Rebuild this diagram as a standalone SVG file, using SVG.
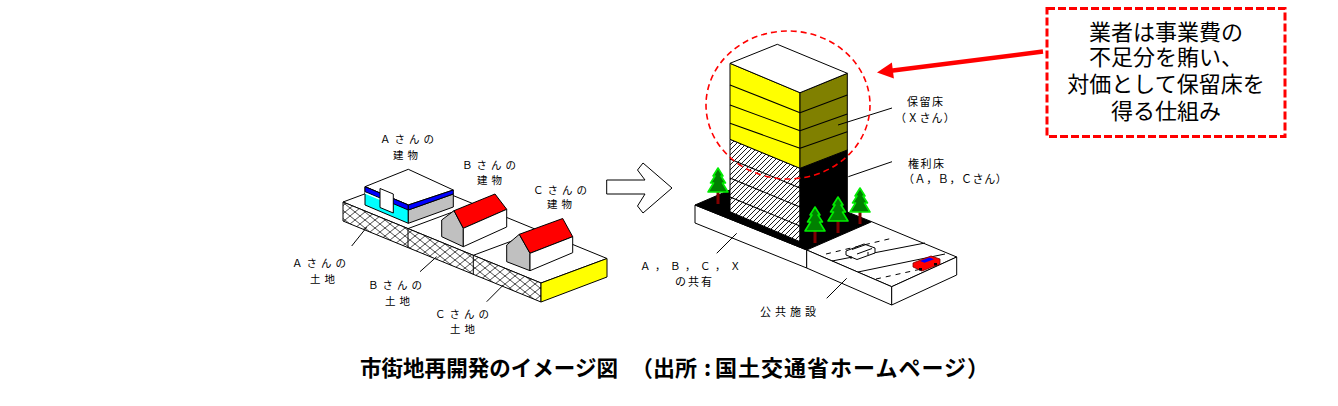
<svg xmlns="http://www.w3.org/2000/svg" width="1338" height="406" viewBox="0 0 1338 406">
<style>
.w{fill:#fff;stroke:#000;stroke-width:1;stroke-linejoin:round}
.k{stroke:#000;stroke-width:1;stroke-linejoin:round}
.ln{stroke:#000;stroke-width:1;fill:none}
.fl{stroke:#000;stroke-width:1.1;fill:none}
.lbl{font-family:"Noto Sans CJK JP","Noto Sans",sans-serif;font-size:10.5px;fill:#000}
.rl{font-family:"Noto Sans CJK JP","Noto Sans",sans-serif;font-size:11px;fill:#000}
.call{font-family:"Noto Sans CJK JP","Noto Sans",sans-serif;font-size:22px;fill:#000;text-anchor:middle}
.cap{font-family:"Noto Sans CJK JP","Noto Sans",sans-serif;font-size:22px;font-weight:bold;fill:#000}
</style>
<defs>
<pattern id="xhatch" patternUnits="userSpaceOnUse" width="10" height="8"><path d="M0,0 L10,8 M0,8 L10,0" stroke="#000" stroke-width="0.7"/></pattern>
<pattern id="dhatch" patternUnits="userSpaceOnUse" width="5" height="5"><path d="M-1,1 L1,-1 M0,5 L5,0 M4,6 L6,4" stroke="#000" stroke-width="0.9"/></pattern>
<g id="tree"><rect x="-1.5" y="23" width="3" height="13" fill="#800000"/><path d="M0,0 L5,8 L3,8 L7.5,15 L4.5,15 L10,24 L-10,24 L-4.5,15 L-7.5,15 L-3,8 L-5,8 Z" fill="#008000" stroke="#00ee00" stroke-width="1.6" stroke-linejoin="round"/></g>
</defs>
<rect width="1338" height="406" fill="#fff"/>

<!-- LEFT: existing lots -->
<g id="lots">
<polygon class="w" points="343,202 409,177.5 607,258.5 541,283"/>
<polygon points="343,202 541,283 541,302 343,221" fill="#fff"/>
<polygon points="343,202 541,283 541,302 343,221" fill="url(#xhatch)" class="k"/>
<polygon class="k" points="541,283 607,258.5 607,277 541,302" fill="#ffff00"/>
<path class="ln" d="M408,228.6 V247.6 M473.3,255.3 V274.3 M408,228.6 L474,204.1 M473.3,255.3 L539.3,230.8"/>
</g>
<g id="bldgA">
<polygon class="w" points="365,186.7 408.3,169.3 453.3,190 408.3,205"/>
<polygon class="k" points="365,186.7 408.3,205 408.3,223.3 365,205" fill="#00ffff"/>
<polygon class="k" points="365,186.7 408.3,205 408.3,210 365,191.7" fill="#0000ff"/>
<polygon points="365,192.2 380,198.5 380,200 365,193.7" fill="#fff"/>
<polygon class="k" points="408.3,210 453.3,194 453.3,207 408.3,223.3" fill="#c0c0c0"/>
<polygon class="k" points="408.3,205 453.3,190 453.3,194 408.3,210" fill="#0000ff"/>
<polygon class="w" points="380,188.5 393.3,194 393.3,213 380,207.5"/>
</g>
<g id="houseB">
<polygon class="k" points="441.7,220 454,210.7 463.3,228.3 463.3,246.7 441.7,236.7" fill="#c0c0c0"/>
<polygon class="k" points="454,210.7 495,194 506.7,209.3 463.3,228.3" fill="#ff0000"/>
<polygon class="w" points="463.3,228.3 506.7,209.3 506.7,227 463.3,246.7"/>
</g>
<g id="houseC">
<polygon class="k" points="506.7,245 519.3,234.3 530,253.3 530,270.7 506.7,261.7" fill="#c0c0c0"/>
<polygon class="k" points="519.3,234.3 562.7,218.5 572.7,236.7 530,253.3" fill="#ff0000"/>
<polygon class="w" points="530,253.3 572.7,236.7 572.7,252.7 530,270.7"/>
</g>
<g id="labelsLeft">
<text class="lbl" x="380" y="143" letter-spacing="4">Ａさんの</text>
<text class="lbl" x="393" y="158.5" letter-spacing="4">建物</text>
<text class="lbl" x="462" y="168.5" letter-spacing="4">Ｂさんの</text>
<text class="lbl" x="477" y="184" letter-spacing="4">建物</text>
<text class="lbl" x="533" y="193.5" letter-spacing="4">Ｃさんの</text>
<text class="lbl" x="547" y="208" letter-spacing="4">建物</text>
<text class="lbl" x="292" y="267" letter-spacing="4">Ａさんの</text>
<text class="lbl" x="310" y="283" letter-spacing="4">土地</text>
<text class="lbl" x="368" y="288.5" letter-spacing="4">Ｂさんの</text>
<text class="lbl" x="385" y="305" letter-spacing="4">土地</text>
<text class="lbl" x="435" y="318" letter-spacing="4">Ｃさんの</text>
<text class="lbl" x="450" y="333" letter-spacing="4">土地</text>
</g>

<!-- hollow arrow -->
<g id="bigArrow">
<polygon class="w" points="606.7,180 645,180 637.5,170 643,163 672,188 643,213 637.5,206 645,194 606.7,194"/>
</g>

<!-- RIGHT: redevelopment -->
<g id="base">
<polygon class="w" points="695,205 806.7,250 806.7,268 695,223"/>
<polygon points="695,205 760,177 871.7,221.7 806.7,250" fill="#000" class="k"/>
</g>
<g id="road">
<polygon class="w" points="806.7,250 871.7,221.7 956.7,257 891.7,286.7"/>
<polygon class="w" points="806.7,250 891.7,286.7 891.7,305 806.7,268"/>
<polygon class="w" points="891.7,286.7 956.7,257 956.7,275 891.7,305"/>
<path class="ln" d="M826,254 L893,238" stroke-dasharray="5,5"/>
<path class="ln" d="M832,261 L925,243"/>
<path class="ln" d="M858,272 L945,254"/>
<path class="ln" d="M876,279 L935,266" stroke-dasharray="5,5"/>
<g id="carWhite">
<polygon points="846,251 864,244 875,248 875,253 857,259.5 846,255" fill="#fff" stroke="#000" stroke-width="1"/>
<path d="M852,249.5 L866,244.5 M857,254 L872,248.5 M851,256 v3 M868,252 v3" stroke="#000" stroke-width="1" fill="none"/>
</g>
<g id="carRed">
<polygon points="913,263 931,256 940,259 940,264 922,271 913,267" fill="#ff0000" stroke="#800000" stroke-width="0.8"/>
<polygon points="920,261 929.5,257.5 934,259.2 924.5,262.8" fill="#0000ff"/>
<rect x="919" y="268" width="3" height="2.5" fill="#000"/>
<rect x="934" y="263" width="3" height="2.5" fill="#000"/>
</g>
</g>
<g id="tower">
<polygon points="730,139.3 800,168.3 800,241.7 730,211.7" fill="#fff"/>
<polygon points="730,139.3 800,168.3 800,241.7 730,211.7" fill="url(#dhatch)" class="k"/>
<path class="fl" d="M730,159 L800,188 M730,178 L800,207 M730,197 L800,226"/>
<polygon class="k" points="800,168.3 847.3,150 847.3,213 800,241.7" fill="#000"/>
<polygon class="k" points="730,63.3 800,92.7 800,168.3 730,139.3" fill="#ffff00"/>
<polygon class="k" points="800,92.7 847.3,73.3 847.3,150 800,168.3" fill="#808000"/>
<path class="fl" d="M730,85 L800,112.7 M730,105 L800,130.7 M730,123.3 L800,148.3"/>
<path class="fl" d="M800,112.7 L847.3,95 M800,130.7 L847.3,114 M800,148.3 L847.3,131.7"/>
<polygon class="w" points="730,63.3 777.3,44.3 847.3,73.3 800,92.7"/>
</g>
<g id="trees">
<use href="#tree" x="718" y="168"/>
<use href="#tree" x="815" y="207"/>
<use href="#tree" x="838" y="197"/>
<use href="#tree" x="860" y="188"/>
</g>
<g id="labelsRight">
<text class="rl" x="907" y="106" letter-spacing="1.5">保留床</text>
<text class="rl" x="895" y="121.5" letter-spacing="1.2">（Ｘさん）</text>
<text class="rl" x="908" y="167.5" letter-spacing="1.5">権利床</text>
<text class="rl" x="903" y="183" letter-spacing="0.6">（Ａ，Ｂ，Ｃさん）</text>
<text class="lbl" x="640" y="270" letter-spacing="4.5">Ａ，Ｂ，Ｃ，Ｘ</text>
<text class="rl" x="675" y="286" letter-spacing="2">の共有</text>
<text class="rl" x="760" y="316" letter-spacing="4">公共施設</text>
</g>

<!-- connectors -->
<g id="connectors">
<path class="ln" d="M351.7,246 L366.7,227.3"/>
<path class="ln" d="M420,271.7 L436.7,256.7"/>
<path class="ln" d="M486.7,301.7 L503.3,285"/>
<path class="ln" d="M838,125 L892,108"/>
<path class="ln" d="M848.3,176.7 L892,161.7"/>
<path class="ln" d="M716.7,253.3 L736.7,233.3"/>
<path class="ln" d="M826.7,298.3 L846.7,278.3"/>
<ellipse cx="788" cy="105" rx="82" ry="74" fill="none" stroke="#ff0000" stroke-width="1.6" stroke-dasharray="6,4"/>
<line x1="1043" y1="51.5" x2="889" y2="71" stroke="#ff0000" stroke-width="4.5"/>
<polygon points="877,72.5 891.9,62.6 893.9,78.4" fill="#ff0000"/>
</g>

<g id="callout">
<rect x="1047" y="8.5" width="238" height="128" fill="#fff" stroke="#ff0000" stroke-width="3" stroke-dasharray="8,3"/>
<text class="call"><tspan x="1166" y="40">業者は事業費の</tspan><tspan x="1166" y="64.5">不足分を賄い、</tspan><tspan x="1166" y="92">対価として保留床を</tspan><tspan x="1166" y="118.5">得る仕組み</tspan></text>
</g>

<g id="caption">
<text class="cap" x="360" y="376" textLength="258" lengthAdjust="spacingAndGlyphs">市街地再開発のイメージ図</text>
<text class="cap" x="631" y="376">（出所</text>
<text class="cap" x="704" y="376">:</text>
<text class="cap" x="715" y="376" textLength="274" lengthAdjust="spacing">国土交通省ホームページ）</text>
</g>
</svg>
